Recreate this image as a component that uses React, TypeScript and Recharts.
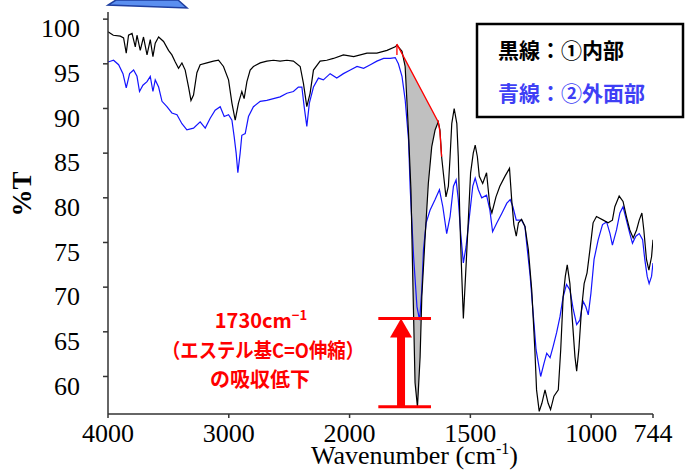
import { ComposedChart, Line, Area, XAxis, YAxis, ReferenceLine } from 'recharts'

document.body.style.margin = '0'

// ① inner part (black)
const BLACK_WN = [
  4000, 3956, 3898, 3871, 3849, 3830, 3801, 3774, 3760, 3733, 3706, 3677, 3650, 3628, 3609, 3581,
  3540, 3499, 3471, 3443, 3416, 3388, 3361, 3333, 3313, 3292, 3264, 3237, 3181, 3127, 3085, 3044,
  3002, 2974, 2947, 2920, 2892, 2873, 2850, 2823, 2796, 2740, 2685, 2630, 2575, 2519, 2465, 2409,
  2382, 2354, 2327, 2299, 2244, 2189, 2134, 2051, 1983, 1928, 1887, 1845, 1811, 1804, 1783, 1770,
  1763, 1756, 1746, 1738, 1729, 1719, 1708, 1701, 1688, 1674, 1660, 1646, 1633, 1626, 1619, 1612,
  1601, 1591, 1584, 1577, 1567, 1556, 1550, 1543, 1536, 1529, 1518, 1509, 1499, 1488, 1480, 1471,
  1463, 1449, 1433, 1419, 1411, 1394, 1378, 1357, 1338, 1329, 1320, 1310, 1301, 1288, 1274, 1260,
  1246, 1233, 1226, 1215, 1204, 1191, 1178, 1168, 1154, 1136, 1126, 1116, 1107, 1099, 1088, 1077,
  1067, 1060, 1051, 1040, 1029, 1017, 1005, 992, 978, 950, 930, 912, 902, 884, 868, 854,
  840, 826, 812, 801, 790, 782, 771, 761, 750, 744,
]
const BLACK_T = [
  98.6, 98.2, 98.1, 97.9, 96.2, 98.2, 98.4, 96.9, 98.2, 96.5, 98.0, 96.0, 97.7, 95.8, 97.3, 98.0,
  97.5, 96.5, 96.0, 95.2, 94.5, 95.1, 94.3, 92.4, 90.9, 91.5, 94.0, 94.9, 95.1, 95.3, 95.4, 94.7,
  93.2, 90.6, 88.7, 90.6, 91.9, 91.1, 93.0, 94.3, 94.7, 95.1, 95.3, 95.4, 95.3, 95.4, 95.3, 94.7,
  92.8, 90.2, 91.7, 94.3, 95.3, 95.4, 95.6, 96.0, 95.8, 96.2, 96.2, 96.5, 96.9, 97.1, 96.4, 94.7,
  91.0, 87.2, 80.9, 70.5, 59.3, 56.6, 62.2, 68.9, 75.3, 81.6, 85.7, 87.6, 88.5, 87.6, 84.6, 82.8,
  80.1, 81.3, 84.6, 88.3, 90.0, 88.3, 84.6, 77.2, 71.6, 66.5, 72.3, 77.2, 82.8, 85.0, 85.9, 84.6,
  82.4, 81.6, 82.8, 79.0, 78.3, 80.1, 81.3, 82.4, 83.3, 79.8, 77.0, 75.7, 77.2, 77.6, 76.8, 74.2,
  69.7, 63.0, 58.5, 56.1, 57.0, 58.5, 57.0, 56.3, 57.8, 58.5, 63.0, 68.9, 71.2, 72.5, 70.4, 66.0,
  62.2, 60.6, 63.0, 67.5, 70.4, 71.6, 74.2, 77.2, 77.9, 77.5, 77.2, 77.5, 79.0, 80.2, 79.6, 77.9,
  76.4, 75.5, 76.4, 77.5, 78.3, 76.4, 73.1, 71.9, 73.4, 75.3,
]

// ② outer surface (blue)
const BLUE_WN = [
  4000, 3954, 3912, 3876, 3849, 3821, 3788, 3760, 3739, 3711, 3677, 3650, 3628, 3609, 3581, 3553,
  3512, 3471, 3429, 3388, 3347, 3292, 3237, 3195, 3154, 3113, 3071, 3038, 3002, 2974, 2955, 2939,
  2925, 2906, 2892, 2864, 2837, 2796, 2740, 2685, 2630, 2575, 2519, 2465, 2424, 2395, 2376, 2354,
  2333, 2299, 2258, 2217, 2161, 2106, 2051, 1997, 1969, 1942, 1914, 1887, 1859, 1832, 1811, 1798,
  1783, 1770, 1756, 1749, 1735, 1721, 1710, 1701, 1694, 1683, 1667, 1646, 1628, 1614, 1598, 1584,
  1570, 1559, 1550, 1540, 1529, 1518, 1504, 1490, 1480, 1467, 1453, 1433, 1419, 1408, 1390, 1369,
  1349, 1335, 1324, 1310, 1288, 1274, 1267, 1253, 1239, 1228, 1209, 1195, 1184, 1170, 1157, 1143,
  1129, 1116, 1102, 1088, 1074, 1060, 1047, 1033, 1022, 1012, 1001, 988, 971, 953, 936, 922,
  912, 895, 881, 868, 854, 840, 829, 815, 801, 787, 778, 768, 760, 750, 744,
]
const BLUE_T = [
  95.2, 95.4, 94.9, 93.9, 92.3, 93.9, 94.3, 93.6, 91.9, 92.6, 93.0, 93.6, 91.9, 93.2, 92.4, 90.8,
  90.2, 89.5, 89.3, 88.3, 87.6, 87.8, 88.5, 87.8, 88.9, 89.8, 90.2, 89.1, 89.3, 88.7, 86.8, 85.0,
  82.8, 85.0, 87.0, 87.2, 89.1, 90.2, 90.8, 90.9, 91.1, 91.3, 91.7, 91.9, 92.4, 92.4, 90.2, 88.0,
  90.6, 92.4, 93.4, 93.2, 93.9, 93.4, 93.9, 94.3, 94.7, 94.5, 94.9, 95.3, 95.6, 95.6, 95.7, 95.0,
  93.6, 91.0, 86.5, 81.0, 73.4, 67.8, 66.3, 69.7, 74.2, 77.2, 78.6, 79.8, 80.9, 79.0, 76.0, 77.9,
  81.3, 82.0, 79.8, 76.0, 72.7, 74.5, 77.9, 81.3, 82.2, 80.9, 80.0, 80.3, 78.6, 76.2, 77.2, 78.3,
  79.4, 79.8, 79.0, 77.5, 77.5, 76.8, 74.9, 71.4, 66.7, 63.0, 60.0, 61.5, 62.6, 62.1, 63.4, 64.9,
  66.7, 68.9, 70.3, 69.7, 67.5, 65.8, 66.3, 68.4, 67.8, 66.9, 69.3, 73.1, 75.3, 77.0, 77.3, 76.0,
  74.7, 76.4, 78.3, 79.0, 77.5, 76.0, 74.9, 75.7, 76.0, 75.3, 73.1, 71.2, 70.4, 71.2, 72.7,
]

// red baseline drawn under the C=O band
const BASELINE_WN = [1804, 1804, 1633, 1626, 1619]
const BASELINE_T = [96.0, 97.2, 88.5, 87.4, 84.6]

// red arrow: drop of %T at 1730
const ARROW_WN = 1787
const ARROW_T = [56.6, 66.5]
const CAP_WN = [1881, 1663]

const X_TICKS = [4000, 3000, 2000, 1500, 1000, 744]
const Y_TICKS = [60, 65, 70, 75, 80, 85, 90, 95, 100]

// IR x-axis: 4000-2000 drawn at half the scale of 2000-744
const toPos = (wn: number) => (wn >= 2000 ? 4000 - wn : 2000 + (2000 - wn) * 2)
const fromPos = (p: number) => Math.round(p <= 2000 ? 4000 - p : 2000 - (p - 2000) / 2)

const blackData = BLACK_WN.map((wn, i) => ({ x: toPos(wn), t: BLACK_T[i] }))
const blueData = BLUE_WN.map((wn, i) => ({ x: toPos(wn), t: BLUE_T[i] }))
const baseData = BASELINE_WN.map((wn, i) => ({ x: toPos(wn), t: BASELINE_T[i] }))

const baseAt = (wn: number) =>
  BASELINE_T[1] + ((BASELINE_T[2] - BASELINE_T[1]) * (BASELINE_WN[1] - wn)) / (BASELINE_WN[1] - BASELINE_WN[2])
const grayData = BLACK_WN.map((wn, i) => ({ wn, t: BLACK_T[i] }))
  .filter(d => d.wn <= BASELINE_WN[1] && d.wn >= BASELINE_WN[2])
  .map(d => ({ x: toPos(d.wn), range: [Math.min(d.t, baseAt(d.wn)), baseAt(d.wn)] }))

const SERIF = '"Liberation Serif", "Times New Roman", serif'
const GOTHIC = '"Noto Sans CJK JP", "Noto Sans", sans-serif'
const AXIS = '#333'

const XTick = ({ x, y, payload }: any) => (
  <text x={x} y={y} dy="0.71em" textAnchor="middle" fontFamily={SERIF} fontSize={26} fill="#000">
    {fromPos(payload.value)}
  </text>
)

const YTick = ({ x, y, payload }: any) => (
  <text x={x} y={y + 9} dy="0.355em" textAnchor="end" fontFamily={SERIF} fontSize={26} fill="#000">
    {payload.value}
  </text>
)

const arrowShape = (p: any) => {
  const { x1, y1, y2 } = p
  return (
    <g>
      <line x1={x1} y1={y1} x2={x1} y2={y2 + 16} stroke="#ff0000" strokeWidth={8} />
      <polygon points={`${x1},${y2} ${x1 - 11},${y2 + 19} ${x1 + 11},${y2 + 19}`} fill="#ff0000" />
    </g>
  )
}

export default function App() {
  return (
    <div style={{ position: 'relative', width: 688, height: 470, background: '#fff' }}>
      <ComposedChart width={688} height={470} margin={{ top: 12, right: 35, left: 0, bottom: 0 }}>
        <XAxis
          type="number"
          dataKey="x"
          domain={[0, toPos(744)]}
          ticks={X_TICKS.map(toPos)}
          interval={0}
          allowDataOverflow
          height={56}
          tickSize={4}
          tickMargin={6}
          tick={<XTick />}
          stroke={AXIS}
          strokeWidth={1.5}
          label={{
            content: () => (
              <text x={311} y={464} fontFamily={SERIF} fontSize={26} fill="#000">
                Wavenumber (cm
                <tspan dy={-10} fontSize={16}>-1</tspan>
                <tspan dy={10}>)</tspan>
              </text>
            ),
          }}
        />
        <YAxis
          type="number"
          domain={[55.8, 100.8]}
          ticks={Y_TICKS}
          interval={0}
          allowDataOverflow
          width={108}
          tickSize={5}
          tickMargin={23}
          tick={<YTick />}
          stroke={AXIS}
          strokeWidth={1.5}
          label={{
            content: () => (
              <text
                x={22}
                y={194}
                transform="rotate(-90, 22, 194)"
                textAnchor="middle"
                dominantBaseline="central"
                fontFamily={SERIF}
                fontWeight="bold"
                fontSize={27}
                fill="#000"
              >
                %T
              </text>
            ),
          }}
        />
        <Area data={grayData} dataKey="range" type="linear" fill="#c0c0c0" fillOpacity={1} stroke="none" isAnimationActive={false} />
        <Line data={blueData} dataKey="t" type="linear" stroke="#1414ff" strokeWidth={1.2} dot={false} isAnimationActive={false} />
        <Line data={blackData} dataKey="t" type="linear" stroke="#000" strokeWidth={1.2} dot={false} isAnimationActive={false} />
        <Line data={baseData} dataKey="t" type="linear" stroke="#ff0000" strokeWidth={1.3} dot={false} isAnimationActive={false} />
        {ARROW_T.map(t => (
          <ReferenceLine
            key={t}
            segment={[{ x: toPos(CAP_WN[0]), y: t }, { x: toPos(CAP_WN[1]), y: t }]}
            stroke="#ff0000"
            strokeWidth={3}
          />
        ))}
        <ReferenceLine
          segment={[{ x: toPos(ARROW_WN), y: ARROW_T[0] }, { x: toPos(ARROW_WN), y: ARROW_T[1] }]}
          shape={arrowShape}
        />
      </ComposedChart>

      <svg width={688} height={470} style={{ position: 'absolute', left: 0, top: 0, pointerEvents: 'none' }}>
        <polygon points="116,0 108,5 187,8 178,0" fill="#5b8ff0" stroke="#1f3fa0" strokeWidth={1.5} />

        <rect x={477} y={24} width={206} height={93} fill="#fff" stroke="#000" strokeWidth={2.5} />
        <text x={498} y={58} fontFamily={GOTHIC} fontWeight="bold" fontSize={21} fill="#000">
          黒線：①内部
        </text>
        <text x={498} y={101} fontFamily={GOTHIC} fontWeight="bold" fontSize={21} fill="#3f3ff5">
          青線：②外面部
        </text>

        <g fontFamily={GOTHIC} fontWeight="bold" fill="#ff0000">
          <text x={261} y={328} textAnchor="middle" fontSize={20}>
            1730cm
            <tspan dy={-8} fontSize={13}>−1</tspan>
          </text>
          <text x={162} y={358} fontSize={20} textLength={202} lengthAdjust="spacingAndGlyphs">
            （エステル基C=O伸縮）
          </text>
          <text x={260} y={387} textAnchor="middle" fontSize={20}>
            の吸収低下
          </text>
        </g>
      </svg>
    </div>
  )
}
